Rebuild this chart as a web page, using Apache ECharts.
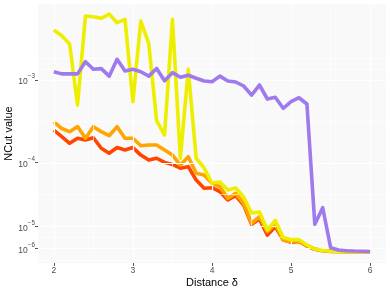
<!DOCTYPE html>
<html><head><meta charset="utf-8">
<script src="https://cdn.jsdelivr.net/npm/echarts@6/dist/echarts.min.js"></script>
<style>html,body{margin:0;padding:0;background:#fff}#c{width:390px;height:293px}</style>
</head><body><div id="c"></div>
<script>
const distance = [2.0,2.1,2.2,2.3,2.4,2.5,2.6,2.7,2.8,2.9,3.0,3.1,3.2,3.3,3.4,3.5,3.6,3.7,3.8,3.9,4.0,4.1,4.2,4.3,4.4,4.5,4.6,4.7,4.8,4.9,5.0,5.1,5.2,5.3,5.4,5.5,5.6,5.7,5.8,5.9,6.0];
const ncutRed = [2.54e-4,2.11e-4,1.75e-4,2.02e-4,1.92e-4,2.05e-4,1.52e-4,1.32e-4,1.55e-4,1.45e-4,1.55e-4,1.25e-4,1.08e-4,1.14e-4,1.01e-4,9.5e-5,8.5e-5,8.9e-5,5.9e-5,4.54e-5,4.63e-5,4.06e-5,3.05e-5,3.54e-5,2.54e-5,1.11e-5,1.43e-5,5.8e-6,9.8e-6,3.9e-6,3.0e-6,3.3e-6,1.8e-6,8e-7,4e-7,2.2e-7,1.8e-7,1.5e-7,1.2e-7,1e-7,1e-7];
const ncutOrange = [3.20e-4,2.65e-4,2.43e-4,2.80e-4,2.02e-4,2.79e-4,2.43e-4,2.17e-4,2.79e-4,2.02e-4,2.02e-4,1.63e-4,1.67e-4,1.67e-4,1.45e-4,1.25e-4,9.3e-5,1.19e-4,7.3e-5,6.9e-5,5.33e-5,4.78e-5,3.24e-5,3.84e-5,2.70e-5,1.17e-5,1.59e-5,7.3e-6,1.13e-5,3.9e-6,3.2e-6,3.4e-6,2.0e-6,9e-7,4.5e-7,2.4e-7,1.8e-7,1.5e-7,1.2e-7,1e-7,1e-7];
const ncutYellow = [3.85e-3,3.30e-3,2.64e-3,5.07e-4,5.60e-3,5.50e-3,5.27e-3,5.91e-3,4.68e-3,5.13e-3,5.55e-4,4.90e-3,2.69e-3,3.29e-4,2.21e-4,5.13e-3,1.14e-4,1.335e-3,1.14e-4,8.55e-5,5.39e-5,5.56e-5,4.29e-5,4.58e-5,3.39e-5,1.86e-5,1.93e-5,8.1e-6,1.34e-5,4.8e-6,4.0e-6,4.0e-6,2.1e-6,8.9e-7,4.5e-7,2.5e-7,1.8e-7,1.5e-7,1.2e-7,1e-7,1e-7];
const ncutPurple = [1.25e-3,1.18e-3,1.18e-3,1.18e-3,1.64e-3,1.335e-3,1.36e-3,1.11e-3,1.75e-3,1.275e-3,1.335e-3,1.25e-3,1.11e-3,1.365e-3,9.8e-4,1.22e-3,1.076e-3,1.136e-3,1.047e-3,9.73e-4,9.55e-4,1.11e-3,9.73e-4,9.47e-4,8.5e-4,6.65e-4,8.73e-4,5.97e-4,6.25e-4,4.63e-4,5.55e-4,6.18e-4,5.21e-4,1.11e-5,2.29e-5,1.27e-6,6e-7,4e-7,3e-7,2.5e-7,2e-7];
const xTicks = [2,3,4,5,6];
const yTicks = [1e-3,1e-4,1e-5,1e-6];
const seriesColors = ['#FF4500','#FFA500','#EEEE00','#9F79EE'];

const OFFSET = 1e-5;
const T = v => Math.log10(v + OFFSET);
const X_MIN = 1.8, X_MAX = 6.2, Y_MIN = -5.126, Y_MAX = -2.111;

// ggplot-style minor breaks (in transformed space)
function minorBreaks(b, lo, hi) {
  b = b.slice().sort((a, c) => a - c);
  const bd = b[1] - b[0];
  if (lo < b[0]) b.unshift(b[0] - bd);
  if (hi > b[b.length - 1]) b.push(b[b.length - 1] + bd);
  const out = [];
  for (let i = 0; i < b.length - 1; i++) { out.push(b[i], (b[i] + b[i + 1]) / 2); }
  out.push(b[b.length - 1]);
  return out.filter(v => v >= lo && v <= hi);
}
const yMajT = yTicks.map(T);
const xMinor = minorBreaks(xTicks, X_MIN, X_MAX);
const yMinor = minorBreaks(yMajT, Y_MIN, Y_MAX);
const grid = [];
xMinor.forEach(v => grid.push({ xAxis: v, lineStyle: { width: 0.6 } }));
yMinor.forEach(v => grid.push({ yAxis: v, lineStyle: { width: 0.6 } }));
xTicks.forEach(v => grid.push({ xAxis: v, lineStyle: { width: 1.2 } }));
yMajT.forEach(v => grid.push({ yAxis: v, lineStyle: { width: 1.2 } }));

const sets = [ncutRed, ncutOrange, ncutYellow, ncutPurple];
const series = sets.map((vals, k) => ({
  type: 'line', z: 3 + k, symbol: 'none', silent: true,
  data: distance.map((x, i) => [x, T(vals[i])]),
  lineStyle: { color: seriesColors[k], width: 3.6, join: 'round', cap: 'butt' }
}));
series.unshift({
  type: 'line', z: 1, data: [], silent: true,
  markLine: { silent: true, symbol: ['none', 'none'], label: { show: false }, animation: false,
    lineStyle: { color: '#FFFFFF', type: 'solid' }, data: grid }
});

const chart = echarts.init(document.getElementById('c'), null, { renderer: 'canvas' });
chart.setOption({
  animation: false,
  grid: { left: 38, right: 4, top: 4, bottom: 30, show: true, backgroundColor: '#F9F9F9', borderWidth: 0,
          containLabel: false, outerBoundsMode: 'none' },
  xAxis: {
    type: 'value', min: X_MIN, max: X_MAX,
    name: 'Distance δ', nameLocation: 'middle', nameGap: 14, nameMoveOverlap: false,
    nameTextStyle: { fontFamily: 'Liberation Sans', fontSize: 11, color: '#000' },
    axisLine: { show: false },
    axisTick: { show: true, length: 3, lineStyle: { color: '#555' }, customValues: xTicks },
    axisLabel: { fontFamily: 'Liberation Sans', fontSize: 8.5, color: '#4D4D4D', margin: 3, customValues: xTicks },
    splitLine: { show: false }
  },
  yAxis: {
    type: 'value', min: Y_MIN, max: Y_MAX,
    name: 'NCut value', nameLocation: 'middle', nameGap: 24, nameRotate: 90, nameMoveOverlap: false,
    nameTextStyle: { fontFamily: 'Liberation Sans', fontSize: 11, color: '#000' },
    axisLine: { show: false },
    axisTick: { show: true, length: 3, lineStyle: { color: '#555' }, customValues: yMajT },
    axisLabel: {
      customValues: yMajT, margin: 3, color: '#4D4D4D',
      formatter: function (val) {
        const e = Math.round(Math.log10(Math.pow(10, val) - OFFSET));
        return '{b|10}{s|' + (e < 0 ? '\u2212' : '') + Math.abs(e) + '}';
      },
      rich: {
        b: { fontFamily: 'Liberation Sans', fontSize: 8.5, color: '#4D4D4D', lineHeight: 13, verticalAlign: 'bottom' },
        s: { fontFamily: 'Liberation Sans', fontSize: 6.3, color: '#4D4D4D', lineHeight: 13, verticalAlign: 'top' }
      }
    },
    splitLine: { show: false }
  },
  series: series
});
</script></body></html>
